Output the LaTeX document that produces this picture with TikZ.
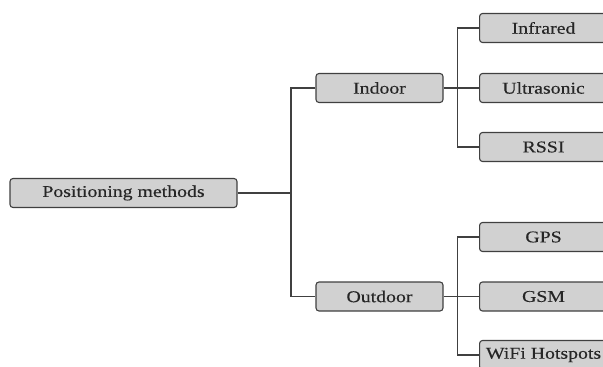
\documentclass[tikz,border=0pt]{standalone}
\usepackage{fontspec}
\newfontfamily\tfont[FakeStretch=1.2,FakeBold=0.3]{Liberation Serif}
\begin{document}
\begin{tikzpicture}[x=1pt,y=-1pt,
  box/.style={draw=black!75,fill=black!18,line width=1.1pt,rounded corners=3pt,
    minimum height=29pt,inner sep=0pt,font=\tfont\fontsize{16.5}{18}\selectfont,text=black!85},
  link/.style={draw=black!75,line width=1.1pt}]
\useasboundingbox (0,0) rectangle (603,367);
\node[box,minimum width=227pt] (pm) at (123.5,193) {Positioning methods};
\node[box,minimum width=127pt] (in) at (379.5,88) {Indoor};
\node[box,minimum width=127pt] (out) at (379.5,296.5) {Outdoor};
\node[box,minimum width=128pt,anchor=west] (ir) at (479,28) {Infrared};
\node[box,minimum width=128pt,anchor=west] (us) at (479,88) {Ultrasonic};
\node[box,minimum width=128pt,anchor=west] (rs) at (479,147) {RSSI};
\node[box,minimum width=128pt,anchor=west] (gps) at (479,237) {GPS};
\node[box,minimum width=128pt,anchor=west] (gsm) at (479,296.5) {GSM};
\node[box,minimum width=128pt,anchor=west] (wifi) at (479,355) {WiFi Hotspots};
\coordinate (j1) at (291,193);
\coordinate (j2) at (457.5,88);
\coordinate (j3) at (457.5,296.5);
\draw[link] (pm.east) -- (j1);
\draw[link] (in.west) -| (j1) |- (out.west);
\draw[link] (in.east) -- (j2);
\draw[link] (ir.west) -| (j2) |- (rs.west);
\draw[link] (j2) -- (us.west);
\draw[link] (out.east) -- (j3);
\draw[link] (gps.west) -| (j3) |- (wifi.west);
\draw[link] (j3) -- (gsm.west);
\end{tikzpicture}
\end{document}
